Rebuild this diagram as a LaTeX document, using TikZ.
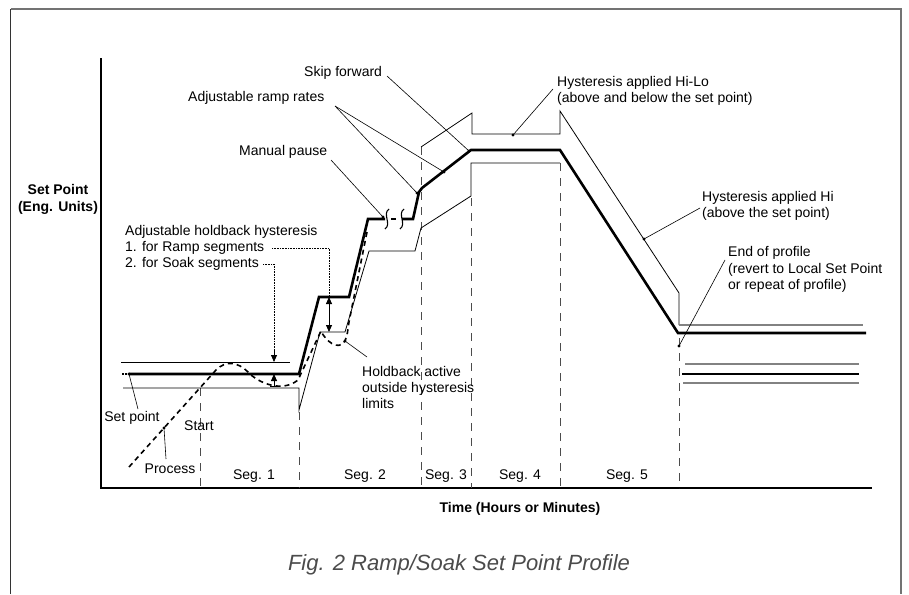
\documentclass[tikz,border=0pt]{standalone}
\usepackage{fontspec}
\setmainfont{Liberation Sans}
\usetikzlibrary{arrows.meta}
\definecolor{titlegray}{RGB}{75,75,75}
\definecolor{bandgray}{RGB}{130,130,130}
\begin{document}
\begin{tikzpicture}[x=1pt,y=-1pt,
  lbl/.style={font=\fontsize{14}{16}\selectfont, inner sep=0pt, align=left, text height=10pt, text depth=3pt},
  blbl/.style={font=\fontsize{14}{17}\selectfont\bfseries, inner sep=0pt, align=center},
  spline/.style={line width=2.6pt, line join=miter, line cap=butt},
  hyst/.style={line width=0.8pt},
  grayband/.style={draw=bandgray, line width=1.5pt},
  segline/.style={draw=black!70, line width=1pt, dash pattern=on 8pt off 7pt},
  proc/.style={line width=1.6pt, dash pattern=on 5pt off 4pt},
  lead/.style={line width=0.6pt},
  ddot/.style={fill=black},
  tip/.style={-{Triangle[length=7pt,width=6pt]}}
]
\useasboundingbox (0,0) rectangle (909,594);

% page frame
\draw[black!80, line width=1.5pt] (10.5,594) -- (10.5,9);
\draw[black!55, line width=1.5pt] (10.5,9) -- (901,9) -- (901,594);

% axes
\coordinate (ytop) at (101,58);
\coordinate (orig) at (101,488);
\coordinate (xend) at (872,488);
\draw[line width=1.4pt] (ytop) -- (orig) -- (xend);

% segment boundaries
\coordinate (b0t) at (200,388); \coordinate (b0b) at (200,488);
\coordinate (b1t) at (299,412); \coordinate (b1b) at (299,488);
\coordinate (b2t) at (421,147); \coordinate (b2b) at (421,488);
\coordinate (b3t) at (471,198); \coordinate (b3b) at (471,488);
\coordinate (b4t) at (560,163); \coordinate (b4b) at (560,488);
\coordinate (b5t) at (679,338); \coordinate (b5b) at (679,488);
\foreach \i in {0,...,5} {\draw[segline] (b\i t) -- (b\i b);}

% hysteresis bands (thin)
\draw[hyst] (121,362) -- (290,362);
\draw[hyst] (123,388) -- (299,388) -- (299,410) -- (320,332) -- (345,332) -- (369,251) -- (415,251) -- (421,228) -- (471,196) -- (471,163) -- (560,163);
\draw[hyst] (421,147) -- (472,113) -- (472,134) -- (560,134) -- (560,111) -- (679,293) -- (679,325);
\draw[grayband] (679,325) -- (863,325);

% set point profile (thick)
\draw[line width=2pt, dash pattern=on 1.5pt off 1.5pt] (122,374) -- (129,374);
\draw[spline] (129,374) -- (299,374) -- (319,297) -- (349,297) -- (368,219) -- (385,219);
\draw[line width=1.1pt] (389,209) .. controls (382,214) and (392,224) .. (385,229);
\draw[line width=2.2pt] (391,219) -- (396,219);
\draw[line width=1.1pt] (404,209) .. controls (397,214) and (407,224) .. (400,229);
\draw[spline] (402,219) -- (413,219) -- (419,192) -- (422,188) -- (471,150) -- (560,150) -- (678,333) -- (866,333);

% alternative end levels
\draw[grayband] (685,364) -- (859,364);
\draw[spline] (682,374) -- (859,374);
\draw[grayband] (683,383) -- (859,383);

% process (dashed)
\draw[proc] (129,467) -- (216,370) .. controls (226,360) and (238,362) .. (248,372)
  .. controls (258,383) and (282,393) .. (298,380) -- (321,331)
  .. controls (325,340) and (338,352) .. (345,341) .. controls (347,336) .. (349,322) -- (367,232);

% dots
\coordinate (dsp) at (129,374);
\coordinate (dproc) at (164,428);
\coordinate (dhold) at (345,341);
\coordinate (dmp) at (383,217);
\coordinate (dr1) at (417,193);
\coordinate (dr2) at (444,172);
\coordinate (dskip) at (469,151);
\coordinate (dhilo) at (513,135);
\coordinate (dhi) at (644,239);
\coordinate (dend) at (679,346);
\foreach \d in {dsp,dproc,dhold,dmp,dr1,dr2,dskip,dhilo,dhi,dend} {\fill (\d) circle (1.6pt);}

% labels
\node[lbl, anchor=west] (skip) at (304,73) {Skip forward};
\node[lbl, anchor=west] (ramp) at (188,98) {Adjustable ramp rates};
\node[lbl, anchor=west] (mpause) at (239,152) {Manual pause};
\node[lbl, anchor=west] (hilo1) at (557,83) {Hysteresis applied Hi-Lo};
\node[lbl, anchor=west] (hilo2) at (557,99) {(above and below the set point)};
\node[lbl, anchor=west] (hi1) at (702,198) {Hysteresis applied Hi};
\node[lbl, anchor=west] (hi2) at (702,214) {(above the set point)};
\node[lbl, anchor=west] (end1) at (728,253) {End of profile};
\node[lbl, anchor=west] (end2) at (728,270) {(revert to Local Set Point};
\node[lbl, anchor=west] (end3) at (728,286) {or repeat of profile)};
\node[lbl, anchor=west] (hb1) at (125,232) {Adjustable holdback hysteresis};
\node[lbl, anchor=west] (hb2) at (125,248) {1. for Ramp segments};
\node[lbl, anchor=west] (hb3) at (125,264) {2. for Soak segments};
\node[lbl, anchor=west] (ha1) at (362,373) {Holdback active};
\node[lbl, anchor=west] (ha2) at (362,389) {outside hysteresis};
\node[lbl, anchor=west] (ha3) at (362,405) {limits};
\node[lbl] (setpt) at (132,418) {Set point};
\node[lbl] (start) at (199,427) {Start};
\node[lbl] (process) at (170,470) {Process};
\node[lbl] (seg1) at (254,476) {Seg. 1};
\node[lbl] (seg2) at (365,476) {Seg. 2};
\node[lbl] (seg3) at (446,476) {Seg. 3};
\node[lbl] (seg4) at (520,476) {Seg. 4};
\node[lbl] (seg5) at (627,476) {Seg. 5};
\node[blbl] (ylab) at (58,199) {Set Point\\(Eng. Units)};
\node[blbl] (xlab) at (520,509) {Time (Hours or Minutes)};
\node[font=\fontsize{22}{26}\selectfont\itshape, text=titlegray, inner sep=0pt] (title) at (459,565) {Fig. 2 Ramp/Soak Set Point Profile};

% leader lines
\coordinate (lskip) at (387,76);
\coordinate (lramp) at (335,106);
\coordinate (lmp) at (331,160);
\coordinate (lhilo) at (553,89);
\coordinate (lhi) at (700,208);
\coordinate (lend) at (725,260);
\coordinate (lhold) at (367,357);
\coordinate (lsp) at (138,409);
\coordinate (lproc) at (166,459);
\draw[lead] (lskip) -- (dskip);
\draw[lead] (lramp) -- (dr1);
\draw[lead] (lramp) -- (dr2);
\draw[lead] (lmp) -- (dmp);
\draw[lead] (lhilo) -- (dhilo);
\draw[lead] (lhi) -- (dhi);
\draw[lead] (lend) -- (dend);
\draw[lead] (lhold) -- (dhold);
\draw[lead] (lsp) -- (dsp);
\draw[lead] (lproc) -- (dproc);

% holdback hysteresis dimension arrows
\coordinate (hs1) at (263,264);
\coordinate (hs2) at (274,264);
\coordinate (hsTip) at (274,362);
\coordinate (hsLow) at (274,386);
\coordinate (hsUp) at (274,374);
\draw[lead, densely dotted] (hs1) -- (hs2) -- (274,350);
\draw[line width=0.8pt, tip] (274,350) -- (hsTip);
\draw[line width=0.8pt, tip] (hsLow) -- (hsUp);
\draw[line width=0.8pt] (270,386) -- (278,386);

\coordinate (hr1) at (272,248);
\coordinate (hr2) at (329,248);
\coordinate (hrTop) at (329,297);
\coordinate (hrBot) at (329,332);
\draw[lead, densely dotted] (hr1) -- (hr2) -- (hrTop);
\draw[line width=0.8pt, {Triangle[length=7pt,width=6pt]}-{Triangle[length=7pt,width=6pt]}] (hrTop) -- (hrBot);

\end{tikzpicture}
\end{document}
